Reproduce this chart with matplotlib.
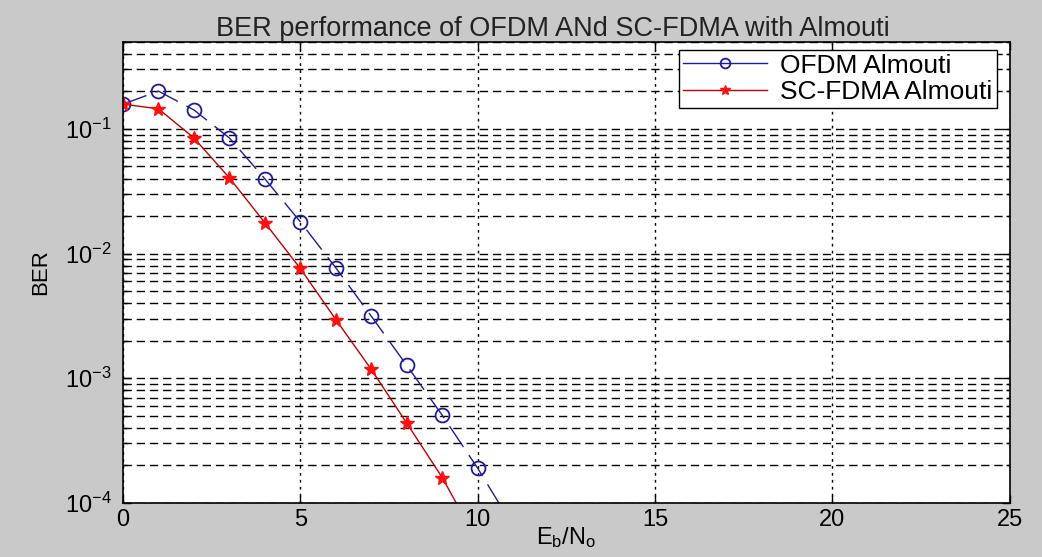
import numpy as np
import matplotlib
matplotlib.use("Agg")
import matplotlib.pyplot as plt
from matplotlib.ticker import LogLocator, NullFormatter

plt.rcParams['font.family'] = ['Liberation Sans', 'DejaVu Sans']
plt.rcParams['mathtext.fontset'] = 'custom'
plt.rcParams['mathtext.rm'] = 'Liberation Sans'
plt.rcParams['mathtext.it'] = 'Liberation Sans'

# Eb/No in dB
snr = [0, 1, 2, 3, 4, 5, 6, 7, 8, 9, 10, 11]
ber_ofdm = [0.158, 0.201, 0.142, 0.0847, 0.0398, 0.018, 0.0077, 0.00315,
            0.00127, 5.06e-4, 1.9e-4, 6.5e-5]
ber_scfdma = [0.158, 0.145, 0.0847, 0.0405, 0.0177, 0.0076, 0.00296, 0.00118,
              4.37e-4, 1.6e-4, 4.9e-5, 1.5e-5]

fig = plt.figure(figsize=(10.42, 5.57), dpi=100, facecolor='#c9c9c9')
ax = fig.add_axes([0.118, 0.097, 0.851, 0.828])
ax.set_facecolor('white')

ax.semilogy(snr, ber_ofdm, color='#1c1c9c', lw=1, marker='o', ms=10,
            mfc='none', mec='#1c1c9c', mew=1.3, linestyle=(0, (18, 7)),
            label='OFDM Almouti')
ax.semilogy(snr, ber_scfdma, color='#c00000', lw=1, marker='*', ms=10,
            mfc='#ff1010', mec='#ff1010', label='SC-FDMA Almouti')

ax.set_xlim(0, 25)
ax.set_ylim(1e-4, 0.5)
ax.set_xticks([0, 5, 10, 15, 20, 25])
ax.yaxis.set_major_locator(LogLocator(base=10, numticks=10))
ax.yaxis.set_minor_locator(LogLocator(base=10, subs=np.arange(2, 10), numticks=20))
ax.yaxis.set_minor_formatter(NullFormatter())

ax.grid(True, which='major', axis='x', color='black', linestyle=(0, (2, 3)), lw=1)
ax.grid(True, which='both', axis='y', color='black', linestyle=(0, (6, 3.5)), lw=1)

ax.tick_params(which='both', direction='in', top=True, right=True,
               labelsize=17, colors='black')
ax.tick_params(which='major', length=6, width=1)
ax.tick_params(axis='y', which='major', pad=8)
ax.tick_params(axis='x', which='major', pad=4)
ax.tick_params(which='minor', length=3, width=1)
for s in ax.spines.values():
    s.set_linewidth(1.2)

ax.set_title('BER performance of OFDM ANd SC-FDMA with Almouti',
             fontsize=19.5, pad=3, color='#222222', x=0.485)
ax.set_xlabel(r'$\mathregular{E_b/N_o}$', fontsize=17, labelpad=-4)
ax.set_ylabel('BER', fontsize=16, labelpad=10)

leg = ax.legend(loc='upper right', bbox_to_anchor=(0.9853, 0.983), fontsize=19,
                fancybox=False, framealpha=1, edgecolor='black',
                handlelength=3.2, borderpad=0.15, labelspacing=0.1,
                handletextpad=0.5, borderaxespad=0)
leg.get_frame().set_linewidth(1)
for h in leg.get_lines():
    h.set_linestyle('-')
    h.set_markersize(7)

fig.savefig('out.png', dpi=100, facecolor=fig.get_facecolor())
